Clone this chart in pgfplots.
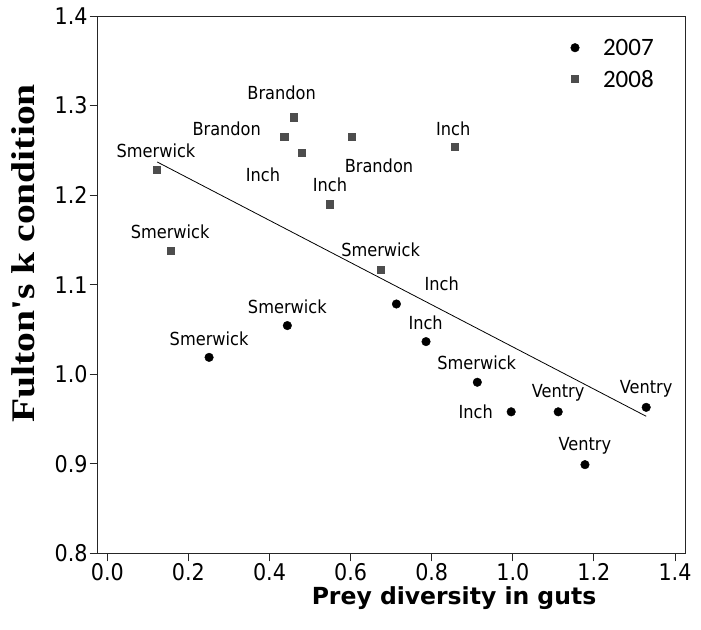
\documentclass[border=0pt]{standalone}
\usepackage{fontspec}
\usepackage{pgfplots}
\pgfplotsset{compat=1.18}
\setmainfont{DejaVu Sans}
\newfontfamily\cond{DejaVu Sans Condensed}
\newfontfamily\dvbold{DejaVu Sans}
\newfontfamily\timesb{Liberation Serif}
\newfontfamily\legf{Carlito}
\definecolor{sqgray}{HTML}{4D4D4D}
\begin{document}
\begin{tikzpicture}
\begin{axis}[
  scale only axis,
  width=587.3pt, height=537.3pt,
  xmin=-0.0237, xmax=1.4247, ymin=0.8, ymax=1.4,
  xtick={0,0.2,0.4,0.6,0.8,1.0,1.2,1.4},
  ytick={0.8,0.9,1.0,1.1,1.2,1.3,1.4},
  /pgf/number format/.cd, fixed, fixed zerofill, precision=1, assume math mode=true,
  /pgfplots/.cd,
  tick align=outside, tick pos=left,
  major tick length=8pt,
  axis line style={black!85, line width=0.9pt},
  tick style={black!85, line width=0.9pt},
  tick label style={font=\cond\fontsize{23}{23}\selectfont},
  yticklabel style={inner sep=2pt},
  xticklabel style={inner sep=2pt},
  xlabel={Prey diversity in guts},
  xlabel style={font=\dvbold\bfseries\fontsize{23.5}{23.5}\selectfont, at={(axis description cs:0.6067,-0.0962)}, anchor=base},
  ylabel={Fulton's k condition},
  ylabel style={font=\timesb\bfseries\fontsize{33}{33}\selectfont, at={(axis description cs:-0.108,0.558)}, anchor=base, xscale=1.2},
  legend style={draw=none, fill=none, at={(rel axis cs:0.8054,0.9596)}, anchor=north west,
    font=\legf\fontsize{25}{25}\selectfont, inner xsep=0pt, inner ysep=0pt, outer sep=0pt,
    nodes={inner sep=2pt, text height=16pt, text depth=0pt}, row sep=11.3pt},
  legend cell align=left,
  legend image code/.code={\draw[#1] plot coordinates {(0pt,0pt)}; \path[draw=none,fill=none] (-4.3pt,0pt) rectangle (26pt,0.1pt);},
]
\addplot[only marks, mark=*, mark size=4.3pt, black] coordinates {
  (0.251,1.0188) (0.444,1.0543) (0.713,1.0784) (0.786,1.0364) (0.9125,0.991)
  (0.996,0.958) (1.112,0.958) (1.178,0.899) (1.329,0.963)
};
\addlegendentry{2007}
\addplot[only marks, mark=square*, mark size=3.65pt, sqgray] coordinates {
  (0.122,1.2287) (0.156,1.1376) (0.436,1.265) (0.46,1.287) (0.479,1.2475)
  (0.602,1.265) (0.856,1.254) (0.549,1.190) (0.675,1.117)
};
\addlegendentry{2008}
\addplot[black, line width=0.8pt, forget plot] coordinates {(0.123,1.237) (1.329,0.953)};
\begin{scope}[every node/.style={font=\cond\fontsize{18}{18}\selectfont, inner sep=0pt}]
\node at (axis cs:0.120,1.250) {Smerwick};
\node at (axis cs:0.155,1.159) {Smerwick};
\node at (axis cs:0.2945,1.2745) {Brandon};
\node at (axis cs:0.430,1.3138) {Brandon};
\node at (axis cs:0.670,1.2332) {Brandon};
\node at (axis cs:0.384,1.2227) {Inch};
\node at (axis cs:0.549,1.2115) {Inch};
\node at (axis cs:0.853,1.2745) {Inch};
\node at (axis cs:0.674,1.1387) {Smerwick};
\node at (axis cs:0.8247,1.1009) {Inch};
\node at (axis cs:0.785,1.0577) {Inch};
\node at (axis cs:0.911,1.0127) {Smerwick};
\node at (axis cs:0.9085,0.9576) {Inch};
\node at (axis cs:1.112,0.9794) {Ventry};
\node at (axis cs:1.178,0.920) {Ventry};
\node at (axis cs:1.329,0.9839) {Ventry};
\node at (axis cs:0.251,1.0394) {Smerwick};
\node at (axis cs:0.444,1.0757) {Smerwick};
\end{scope}
\coordinate (sw) at (rel axis cs:0,0);
\end{axis}
\pgfresetboundingbox
\path (sw) ++(-97.7pt,-75.7pt) rectangle ++(701pt,629pt);
\end{tikzpicture}
\end{document}
